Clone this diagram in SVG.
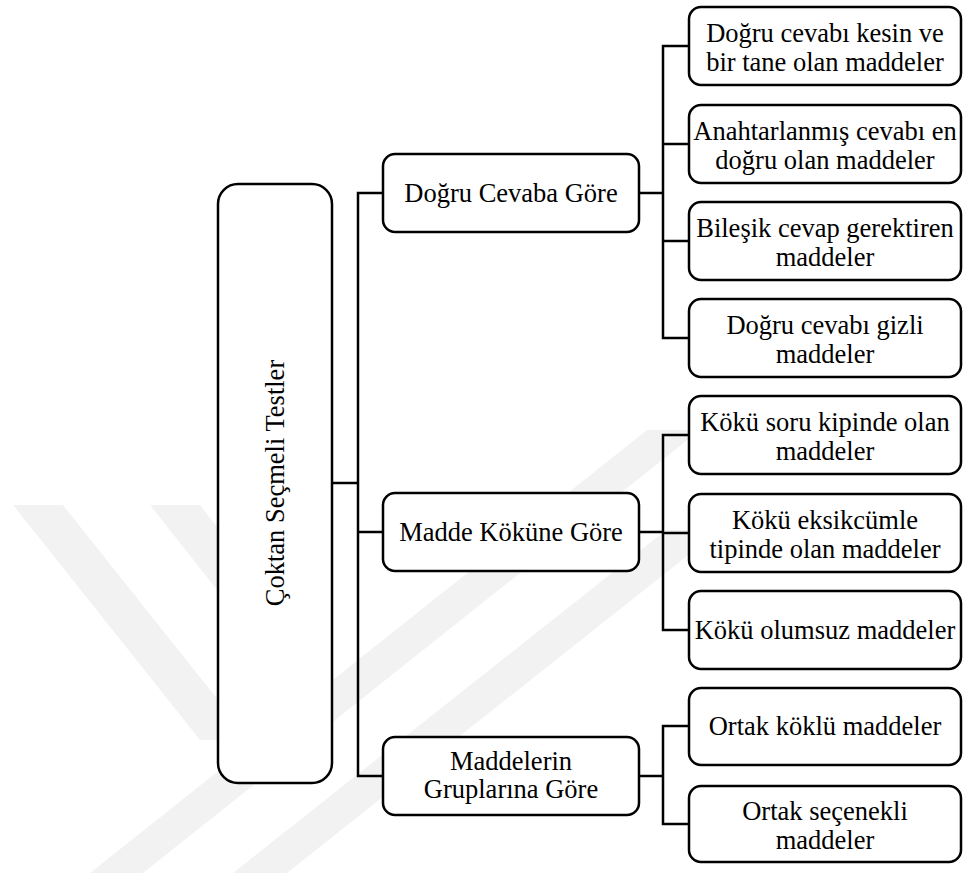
<svg xmlns="http://www.w3.org/2000/svg" width="963" height="873" viewBox="0 0 963 873">
<style>
.box{fill:#fff;stroke:#000;stroke-width:2.5}
.wm{fill:#000;fill-opacity:0.05}
.con{fill:none;stroke:#000;stroke-width:2.5}
.t{font-size:26.5px;fill:#000;text-anchor:middle}
</style>
<rect width="963" height="873" fill="#fff"/>
<g id="watermark">
<polygon class="wm" points="13,505 63,505 250,740 200,740"/>
<polygon class="wm" points="150,505 200,505 330,670 280,670"/>
<polygon class="wm" points="90,873 143,873 700,430 647,430"/>
<polygon class="wm" points="233,873 287,873 720,530 666,530"/>
</g>
<g id="connectors">
<path class="con" d="M332,483 H358"/>
<path class="con" d="M383,193 H358 V776 H383 M358,532 H383"/>
<path class="con" d="M639,193 H663 M689,46 H663 V338 H689 M663,144 H689 M663,241 H689"/>
<path class="con" d="M639,532 H663 M689,435 H663 V630 H689 M663,533 H689"/>
<path class="con" d="M639,776 H663 M689,726 H663 V824 H689"/>
</g>
<g font-family="Liberation Serif, DejaVu Serif, serif">
<g id="root">
<rect class="box" x="218" y="184" width="114" height="599" rx="20"/>
<text class="t" transform="translate(284,483) rotate(-90)">Çoktan Seçmeli Testler</text>
</g>
<g id="n-dogru-cevaba">
<rect class="box" x="383" y="154" width="256" height="78" rx="12"/>
<text class="t" x="511" y="202">Doğru Cevaba Göre</text>
</g>
<g id="n-madde-kokune">
<rect class="box" x="383" y="493" width="256" height="78" rx="12"/>
<text class="t" x="511" y="541">Madde Köküne Göre</text>
</g>
<g id="n-gruplarina">
<rect class="box" x="383" y="737" width="256" height="78" rx="12"/>
<text class="t" x="511" y="770">Maddelerin</text>
<text class="t" x="511" y="798">Gruplarına Göre</text>
</g>
<g id="n-kesin">
<rect class="box" x="689" y="7" width="272" height="78" rx="12"/>
<text class="t" x="825" y="42">Doğru cevabı kesin ve</text>
<text class="t" x="825" y="71">bir tane olan maddeler</text>
</g>
<g id="n-anahtar">
<rect class="box" x="689" y="105" width="272" height="78" rx="12"/>
<text class="t" x="825" y="140">Anahtarlanmış cevabı en</text>
<text class="t" x="825" y="169">doğru olan maddeler</text>
</g>
<g id="n-bilesik">
<rect class="box" x="689" y="202" width="272" height="78" rx="12"/>
<text class="t" x="825" y="237">Bileşik cevap gerektiren</text>
<text class="t" x="825" y="266">maddeler</text>
</g>
<g id="n-gizli">
<rect class="box" x="689" y="299" width="272" height="78" rx="12"/>
<text class="t" x="825" y="334">Doğru cevabı gizli</text>
<text class="t" x="825" y="363">maddeler</text>
</g>
<g id="n-soru">
<rect class="box" x="689" y="396" width="272" height="78" rx="12"/>
<text class="t" x="825" y="431">Kökü soru kipinde olan</text>
<text class="t" x="825" y="460">maddeler</text>
</g>
<g id="n-eksik">
<rect class="box" x="689" y="494" width="272" height="78" rx="12"/>
<text class="t" x="825" y="529">Kökü eksikcümle</text>
<text class="t" x="825" y="558">tipinde olan maddeler</text>
</g>
<g id="n-olumsuz">
<rect class="box" x="689" y="591" width="272" height="78" rx="12"/>
<text class="t" x="825" y="639">Kökü olumsuz maddeler</text>
</g>
<g id="n-ortak-koklu">
<rect class="box" x="689" y="688" width="272" height="77" rx="12"/>
<text class="t" x="825" y="735">Ortak köklü maddeler</text>
</g>
<g id="n-ortak-secenekli">
<rect class="box" x="689" y="786" width="272" height="76" rx="12"/>
<text class="t" x="825" y="820">Ortak seçenekli</text>
<text class="t" x="825" y="849">maddeler</text>
</g>
</g>
</svg>
